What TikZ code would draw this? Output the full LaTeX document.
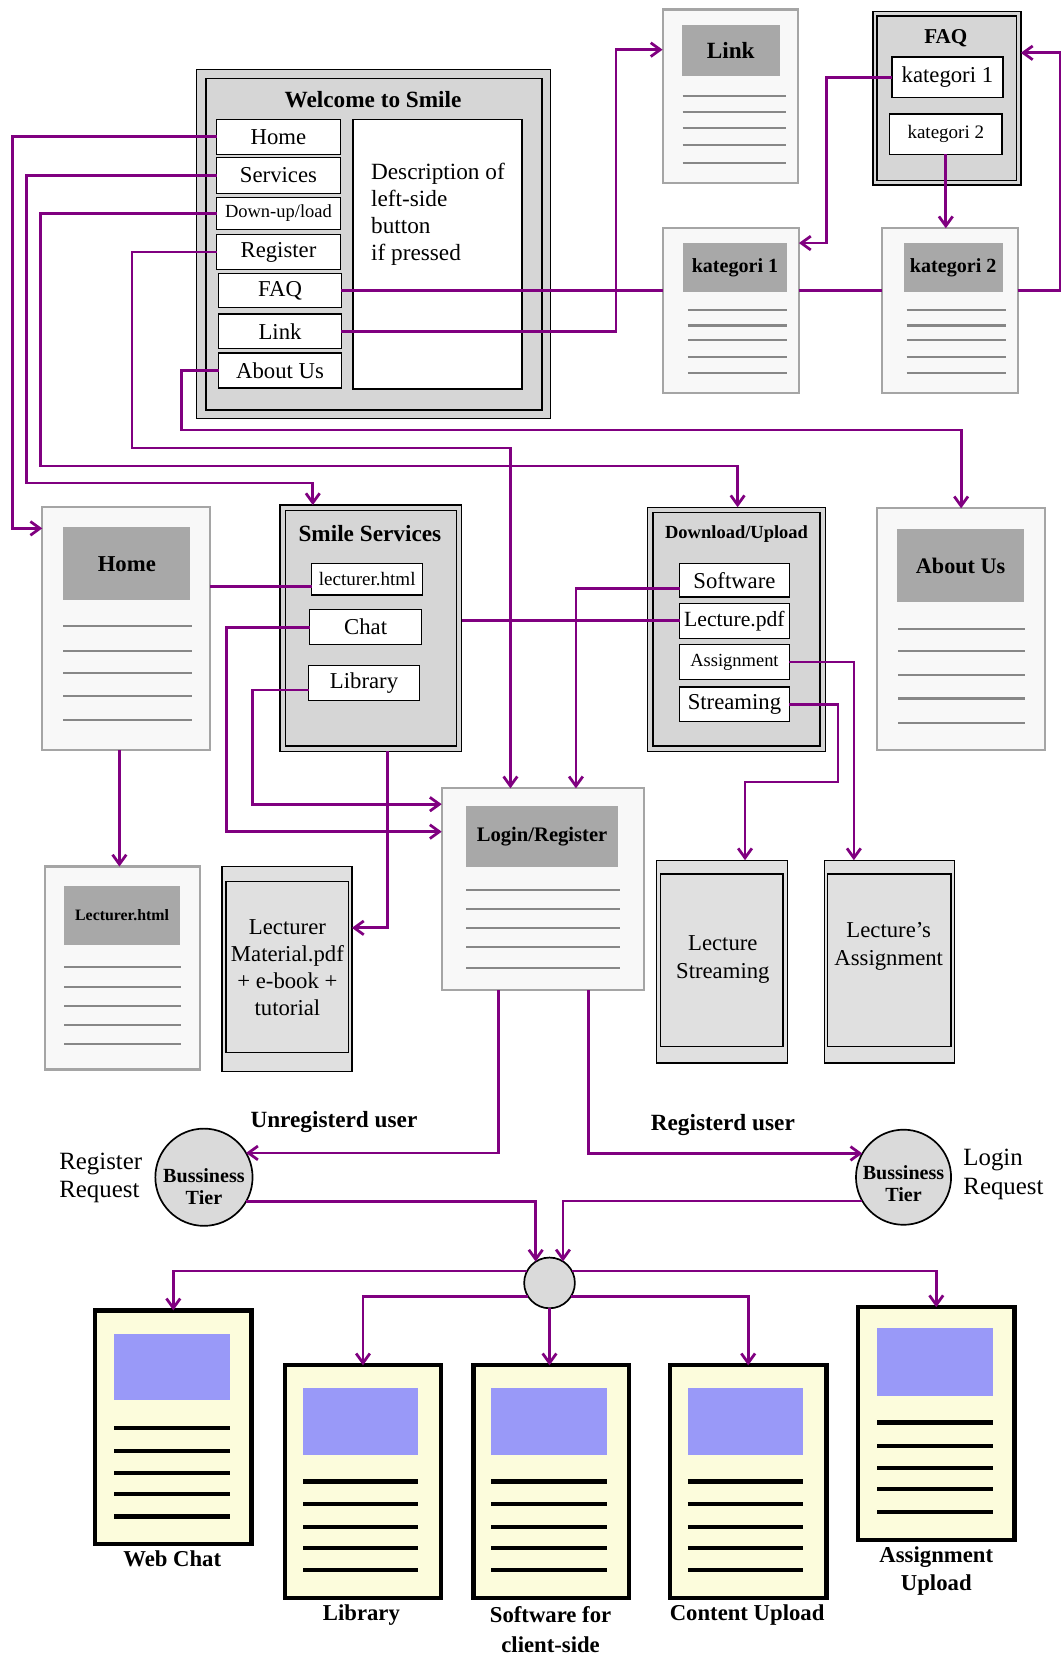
\documentclass[tikz,border=0pt]{standalone}
\usepackage{fontspec}
\setmainfont{Liberation Serif}
\usetikzlibrary{arrows.meta}

\definecolor{linkpurple}{RGB}{128,0,128}
\definecolor{pgborder}{RGB}{165,165,165}
\definecolor{pgfillc}{RGB}{248,248,248}
\definecolor{hdrgray}{RGB}{168,168,168}
\definecolor{pgline}{RGB}{135,135,135}
\definecolor{boxgray}{RGB}{214,214,214}
\definecolor{wingray}{RGB}{224,224,224}
\definecolor{paperyel}{RGB}{252,252,220}
\definecolor{blockblue}{RGB}{153,153,248}
\definecolor{orbgray}{RGB}{218,218,218}

\newcommand{\fz}[2]{\fontsize{#1}{#2}\selectfont}
% rectangle node given by its corners: style, x1, y1, x2, y2, name, text
\newcommand{\boxnode}[7]{%
  \node[#1, minimum width={(#4)-(#2)}, minimum height={(#5)-(#3)}]
    (#6) at ({((#2)+(#4))/2},{((#3)+(#5))/2}) {#7};}

\tikzset{
  conn/.style={draw=linkpurple, line width=2.6pt},
  arr/.style={conn, -{Straight Barb[length=9pt,width=13pt]}},
  rectbase/.style={rectangle, inner sep=0pt, outer sep=0pt},
  btn/.style={rectbase, draw=black, fill=white, line width=1.3pt, font=\fz{21.5}{24}},
  dblout/.style={rectbase, draw=black, fill=boxgray, line width=1.3pt},
  dblin/.style={draw=black, line width=1.3pt},
  webpg/.style={rectbase, draw=pgborder, fill=pgfillc, line width=2pt},
  hdr/.style={rectbase, fill=hdrgray},
  pgrule/.style={draw=pgline, line width=2pt},
  winout/.style={rectbase, draw=black, fill=wingray, line width=1.3pt},
  winin/.style={draw=black, line width=1.3pt},
  ypage/.style={rectbase, draw=black, fill=paperyel, line width=4pt},
  yrule/.style={draw=black, line width=4pt},
  orb/.style={circle, draw=black, fill=orbgray, line width=1.6pt, inner sep=0pt, outer sep=0pt},
  lbl/.style={inner sep=0pt, align=center},
}

\begin{document}
\begin{tikzpicture}[x=1pt,y=-1pt]
\useasboundingbox (0,0) rectangle (1006,1568);
\fill[white] (0,0) rectangle (1006,1568);

% ---------- Welcome to Smile ----------
\boxnode{dblout}{186}{66}{521}{396}{sWel}{}
\draw[dblin] (195,74) rectangle (513,388);
\node[lbl, font=\fz{22}{26}\bfseries] (tWel) at (353,94) {Welcome to Smile};
\boxnode{btn}{205}{113}{322}{146}{bHome}{Home}
\boxnode{btn}{205}{149}{322}{183}{bServ}{Services}
\boxnode{btn, font=\fz{17.5}{20}}{205}{187}{322}{217}{bDown}{Down-up/load}
\boxnode{btn}{205}{222}{322}{255}{bReg}{Register}
\boxnode{btn}{207}{259}{323}{291}{bFAQ}{FAQ}
\boxnode{btn}{207}{297}{323}{330}{bLink}{Link}
\boxnode{btn}{207}{334}{323}{367}{bAbout}{About Us}
\boxnode{btn}{334}{113}{494}{368}{bDesc}{}
\node[lbl, align=left, anchor=west, font=\fz{22}{25.7}] (tDesc) at (351,203)
  {Description of\\left-side\\button\\if pressed};

% ---------- Link page ----------
\boxnode{webpg}{627}{9}{755}{173}{pLink}{}
\boxnode{hdr, font=\fz{22}{24}\bfseries}{645}{24}{738}{72}{hLink}{Link}
\foreach \y in {91,106,121,137,154} \draw[pgrule] (646,\y) -- (744,\y);

% ---------- FAQ ----------
\boxnode{dblout}{826}{11}{966}{175}{sFAQ}{}
\draw[dblin] (830,15) rectangle (962,171);
\node[lbl, font=\fz{20}{22}\bfseries] (tFAQ) at (895,36) {FAQ};
\boxnode{btn}{844}{54}{949}{92}{bK1}{kategori 1}
\boxnode{btn, font=\fz{18}{20}}{842}{108}{948}{146}{bK2}{kategori 2}

% ---------- kategori pages ----------
\boxnode{webpg}{627}{216}{756}{372}{pK1}{}
\boxnode{hdr, font=\fz{19}{21}\bfseries}{646}{230}{745}{276}{hK1}{kategori 1}
\foreach \y in {293,308,322,338,353} \draw[pgrule] (651,\y) -- (745,\y);
\boxnode{webpg}{835}{216}{963}{372}{pK2}{}
\boxnode{hdr, font=\fz{19}{21}\bfseries}{855}{230}{949}{276}{hK2}{kategori 2}
\foreach \y in {293,308,322,338,353} \draw[pgrule] (858,\y) -- (952,\y);

% ---------- Home page ----------
\boxnode{webpg}{40}{480}{199}{710}{pHome}{}
\boxnode{hdr, font=\fz{21.5}{24}\bfseries}{60}{499}{180}{568}{hHome}{Home}
\foreach \y in {592,616,637,659,681} \draw[pgrule] (60,\y) -- (182,\y);

% ---------- Smile Services ----------
\boxnode{dblout}{265}{478}{437}{711}{sSrv}{}
\draw[dblin] (270,483) rectangle (432,706);
\node[lbl, font=\fz{22}{24}\bfseries] (tSrv) at (350,505) {Smile Services};
\boxnode{btn, font=\fz{18}{20}}{295}{533}{400}{563}{bLect}{lecturer.html}
\boxnode{btn}{293}{577}{399}{610}{bChat}{Chat}
\boxnode{btn}{292}{630}{397}{663}{bLib}{Library}

% ---------- Download/Upload ----------
\boxnode{dblout}{613}{480}{781}{711}{sDU}{}
\draw[dblin] (618,485) rectangle (776,706);
\node[lbl, font=\fz{17.5}{20}\bfseries] (tDU) at (697,505) {Download/Upload};
\boxnode{btn}{643}{533}{747}{565}{bSoft}{Software}
\boxnode{btn, font=\fz{20.5}{22}}{643}{571}{747}{604}{bPdf}{Lecture.pdf}
\boxnode{btn, font=\fz{17.5}{20}}{643}{610}{747}{643}{bAsg}{Assignment}
\boxnode{btn}{643}{650}{747}{683}{bStr}{Streaming}

% ---------- About Us page ----------
\boxnode{webpg}{830}{481}{989}{710}{pAbout}{}
\boxnode{hdr, font=\fz{21}{24}\bfseries}{849}{501}{969}{570}{hAbout}{About Us}
\foreach \y in {595,616,639,661,684} \draw[pgrule] (850,\y) -- (970,\y);

% ---------- Login/Register page ----------
\boxnode{webpg}{418}{746}{609}{937}{pLogin}{}
\boxnode{hdr, font=\fz{19.5}{22}\bfseries}{441}{763}{585}{820}{hLogin}{Login/Register}
\foreach \y in {842,860,878,896,916} \draw[pgrule] (441,\y) -- (587,\y);

% ---------- Lecturer.html page ----------
\boxnode{webpg}{43}{820}{189}{1012}{pLect}{}
\boxnode{hdr, font=\fz{15}{17}\bfseries}{61}{838}{170}{894}{hLect}{Lecturer.html}
\foreach \y in {915,934,952,970,988} \draw[pgrule] (61,\y) -- (171,\y);

% ---------- content windows ----------
\boxnode{winout}{210}{820}{333}{1014}{wMat}{}
\draw[winin] (214,834) rectangle (330,996);
\node[lbl, font=\fz{21.5}{25.7}] (tMat) at (272,915.5) {Lecturer\\Material.pdf\\+ e-book +\\tutorial};
\boxnode{winout}{621}{814}{745}{1006}{wStr}{}
\draw[winin] (625,827) rectangle (741,990);
\node[lbl, font=\fz{21.5}{26}] (tStr) at (684,908) {Lecture\\Streaming};
\boxnode{winout}{780}{814}{903}{1006}{wAsg}{}
\draw[winin] (783,827) rectangle (900,990);
\node[lbl, font=\fz{21.5}{26}] (tAsg) at (841,895.5) {Lecture's\\Assignment};

% ---------- business tiers ----------
\node[orb, minimum size=92] (bt1) at (193,1114) {};
\node[lbl, font=\fz{19}{21}\bfseries] (tBt1) at (193,1123) {Bussiness\\Tier};
\node[orb, minimum size=90] (bt2) at (855,1114) {};
\node[lbl, font=\fz{19}{21}\bfseries] (tBt2) at (855,1120) {Bussiness\\Tier};
\node[orb, minimum size=48] (jn) at (520,1214) {};
\node[lbl, font=\fz{22}{24}\bfseries] (tUnreg) at (316,1062) {Unregisterd user};
\node[lbl, font=\fz{22}{24}\bfseries] (tReg) at (684,1065) {Registerd user};
\node[lbl, align=left, anchor=west, font=\fz{23.5}{27}] (tRegReq) at (56,1114.5) {Register\\Request};
\node[lbl, align=left, anchor=west, font=\fz{23.5}{27}] (tLogReq) at (911.5,1111.5) {Login\\Request};

% ---------- client pages ----------
\boxnode{ypage}{90}{1240}{238}{1461}{yWeb}{}
\fill[blockblue] (108,1262) rectangle (218,1325);
\foreach \y in {1351,1373,1394,1414,1435} \draw[yrule] (108,\y) -- (218,\y);
\node[lbl, font=\fz{21.5}{28}\bfseries] (tWeb) at (163,1475) {Web Chat};

\boxnode{ypage}{270}{1292}{417}{1512}{yLib}{}
\fill[blockblue] (287,1313) rectangle (396,1377);
\foreach \y in {1402,1423,1445,1465,1486} \draw[yrule] (287,\y) -- (396,\y);
\node[lbl, font=\fz{21.5}{28}\bfseries] (tLibr) at (342,1528) {Library};

\boxnode{ypage}{448}{1292}{595}{1512}{ySoft}{}
\fill[blockblue] (465,1313) rectangle (574,1377);
\foreach \y in {1402,1423,1445,1465,1486} \draw[yrule] (465,\y) -- (574,\y);
\node[lbl, font=\fz{21.5}{28}\bfseries] (tSoftw) at (521,1542) {Software for\\client-side};

\boxnode{ypage}{634}{1292}{782}{1512}{yCont}{}
\fill[blockblue] (651,1313) rectangle (760,1377);
\foreach \y in {1402,1423,1445,1465,1486} \draw[yrule] (651,\y) -- (760,\y);
\node[lbl, font=\fz{21.5}{28}\bfseries] (tCont) at (707,1528) {Content Upload};

\boxnode{ypage}{812}{1237}{960}{1457}{yAsg}{}
\fill[blockblue] (830,1257) rectangle (940,1321);
\foreach \y in {1346,1368,1389,1409,1431} \draw[yrule] (830,\y) -- (940,\y);
\node[lbl, font=\fz{21.5}{27}\bfseries] (tAsgUp) at (886,1486.5) {Assignment\\Upload};

% ---------- connectors: main menu ----------
\draw[arr] (bHome.west) -| (12,500) -- (pHome.west |- 0,500);
\draw[arr] (bServ.west) -| (25,457) -| (sSrv.north -| 296,0);
\draw[arr] (bDown.west) -| (38,441) -| (sDU.north -| 698,0);
\draw[arr] (bReg.west) -| (125,424) -| (pLogin.north -| 483,0);
\draw[arr] (bAbout.west) -| (172,407) -| (pAbout.north);

% ---------- connectors: FAQ and Link ----------
\draw[conn] (bFAQ.east) -- (pK1.west |- bFAQ.east);
\draw[conn] (pK1.east |- bFAQ.east) -- (pK2.west |- bFAQ.east);
\draw[arr] (pK2.east |- bFAQ.east) -| (1003,50) -- (sFAQ.east |- 0,50);
\draw[arr] (bK1.west) -| (782,230) -- (pK1.east |- 0,230);
\draw[arr] (bK2.south) -- (bK2.south |- pK2.north);
\draw[arr] (bLink.east) -| (583,47) -- (pLink.west |- 0,47);

% ---------- connectors: services and downloads ----------
\draw[conn] (pHome.east |- 0,555) -- (bLect.west |- 0,555);
\draw[arr] (bChat.west) -| (214,787) -- (pLogin.west |- 0,787);
\draw[arr] (bLib.west |- 0,653) -| (239,761) -- (pLogin.west |- 0,761);
\draw[arr] (sSrv.south -| 367,0) |- (wMat.east |- 0,878);
\draw[conn] (sSrv.east |- bPdf.west) -- (bPdf.west);
\draw[arr] (bSoft.west |- 0,557) -| (pLogin.north -| 545,0);
\draw[arr] (bAsg.east) -| (wAsg.north -| 808,0);
\draw[arr] (bStr.east) -| (793,740) -| (wStr.north -| 705,0);
\draw[arr] (pHome.south -| 113,0) -- (pLect.north -| 113,0);

% ---------- connectors: login flow ----------
\draw[arr] (pLogin.south -| 472,0) |- (bt1.30);
\draw[arr] (pLogin.south -| 557,0) |- (bt2.150);
\draw[arr] (bt1.330) -| (jn.123);
\draw[arr] (bt2.210) -| (jn.58);
\draw[arr] (jn.152) -| (yWeb.north);
\draw[arr] (jn.213) -| (yLib.north);
\draw[arr] (jn.south) -- (jn.south |- ySoft.north);
\draw[arr] (jn.327) -| (yCont.north);
\draw[arr] (jn.28) -| (yAsg.north);
\end{tikzpicture}
\end{document}
